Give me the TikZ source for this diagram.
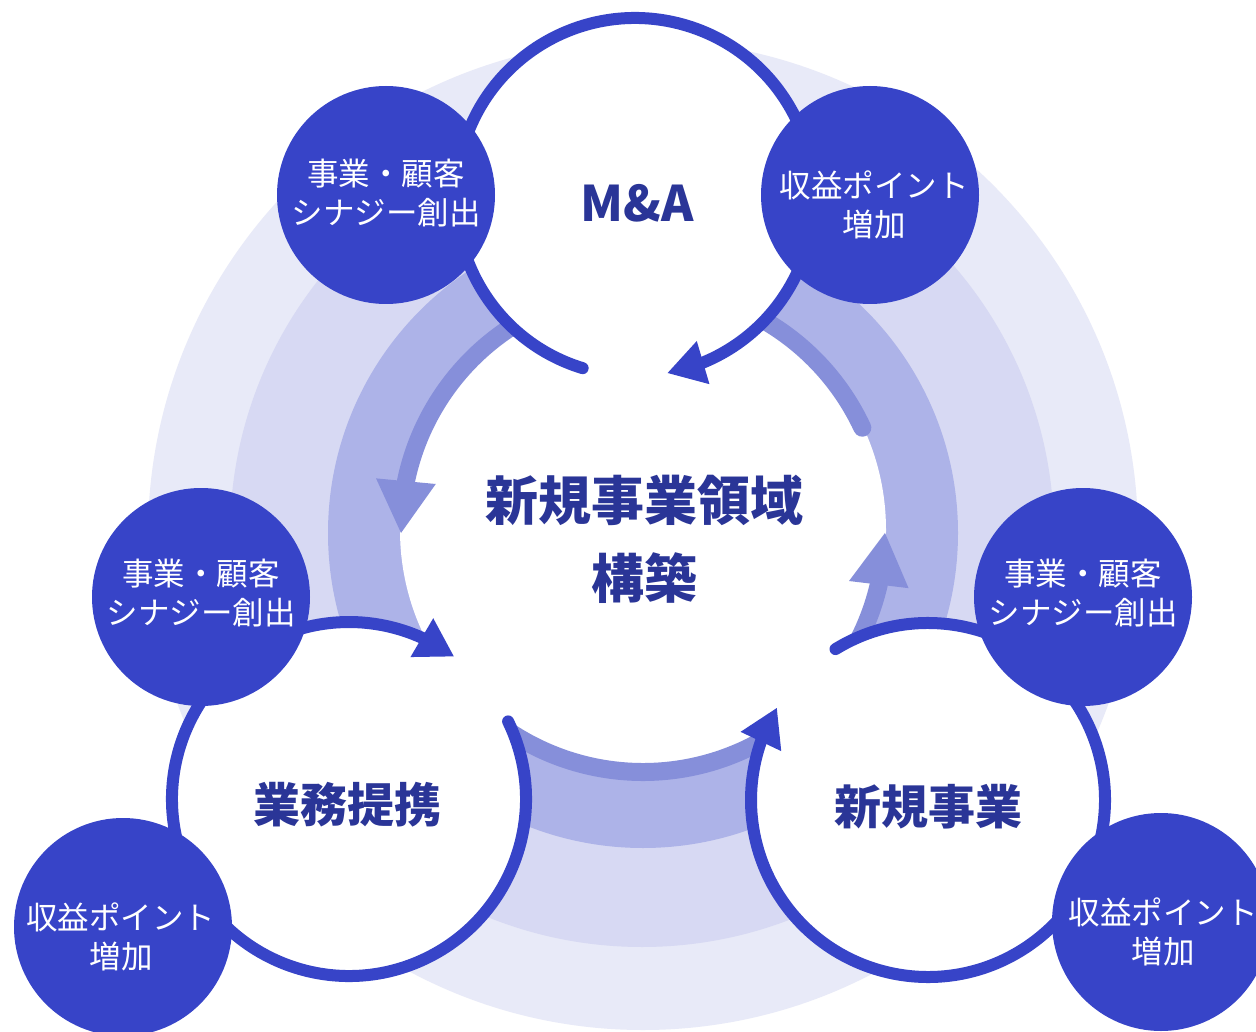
\documentclass[tikz,border=0pt]{standalone}
\usepackage{fontspec}
\setmainfont{Noto Sans CJK JP}
\usetikzlibrary{arrows.meta,bending}
\definecolor{ringA}{HTML}{E8EAF8}
\definecolor{ringB}{HTML}{D7D9F3}
\definecolor{ringC}{HTML}{ADB3E8}
\definecolor{midarc}{HTML}{868FDA}
\definecolor{mainblue}{HTML}{3744C8}
\definecolor{navy}{HTML}{2A3597}
\tikzset{
  outline/.style={draw=mainblue, line width=12pt, line cap=round,
    -{Triangle[length=37pt,width=45pt,line width=0pt,flex]}},
  midline/.style={draw=midarc, line width=18pt, line cap=round},
  midarrow/.style={midline, -{Triangle[length=52pt,width=60pt,line width=0pt,flex]}},
  bluedot/.style={circle, fill=mainblue, minimum size=218pt, inner sep=0pt},
  dotlabel/.style={text=white, align=center, inner sep=0pt, font=\fontsize{31.5}{39}\selectfont},
  title/.style={text=navy, align=center, inner sep=0pt, font=\bfseries\fontsize{47}{56}\selectfont},
}
\begin{document}
\begin{tikzpicture}[x=1pt,y=-1pt]
\useasboundingbox (0,0) rectangle (1256,1032);
\clip (0,0) rectangle (1256,1032);
\fill[white] (0,0) rectangle (1256,1032);
% background rings
\fill[ringA] (643,535) circle[radius=495];
\fill[ringB] (642,535) circle[radius=412];
\fill[ringC] (643,533) circle[radius=315];
\coordinate (cC) at (643,530);
\coordinate (cM) at (635,197);
\coordinate (cB) at (349,799);
\coordinate (cN) at (928,800);
\fill[white] (cC) circle[radius=243];
% inner cycle arcs
\draw[midarrow] (cC) ++(240:242) arc[start angle=240, end angle=179.3, radius=242];
\draw[midline] (cC) ++(295:242) arc[start angle=295, end angle=335, radius=242];
\draw[midarrow] (cC) ++(35:242) arc[start angle=35, end angle=0.7, radius=242];
\draw[midline] (cC) ++(140:242) arc[start angle=140, end angle=40, radius=242];
% white circles
\fill[white] (cM) circle[radius=179];
\fill[white] (cB) circle[radius=177];
\fill[white] (cN) circle[radius=177];
% blue cycle arrows
\draw[outline] (cM) ++(107:179) arc[start angle=107, end angle=439.5, radius=179];
\draw[outline] (cB) ++(334:177) arc[start angle=334, end angle=666.3, radius=177];
\draw[outline] (cN) ++(238.5:177) arc[start angle=238.5, end angle=571.3, radius=177];
% blue dots
\node[bluedot] (d1) at (386,195) {};
\node[bluedot] (d2) at (870,195) {};
\node[bluedot] (d3) at (201,597) {};
\node[bluedot] (d4) at (1083,597) {};
\node[bluedot] (d5) at (123,927) {};
\node[bluedot] (d6) at (1161,922) {};
\node[dotlabel] (l1) at (386,193) {事業・顧客\\シナジー創出};
\node[dotlabel] (l2) at (874,205) {収益ポイント\\増加};
\node[dotlabel] (l3) at (201,593) {事業・顧客\\シナジー創出};
\node[dotlabel] (l4) at (1083,593) {事業・顧客\\シナジー創出};
\node[dotlabel] (l5) at (121,937) {収益ポイント\\増加};
\node[dotlabel] (l6) at (1163,932) {収益ポイント\\増加};
% titles
\node[title, font=\bfseries\fontsize{49}{56}\selectfont] (tMA) at (637,203) {M\&A};
\node[title, font=\bfseries\fontsize{53}{78}\selectfont] (tCore) at (644,539) {新規事業領域\\構築};
\node[title] (tGyomu) at (347,805) {業務提携};
\node[title] (tShinki) at (928,807) {新規事業};
\end{tikzpicture}
\end{document}
